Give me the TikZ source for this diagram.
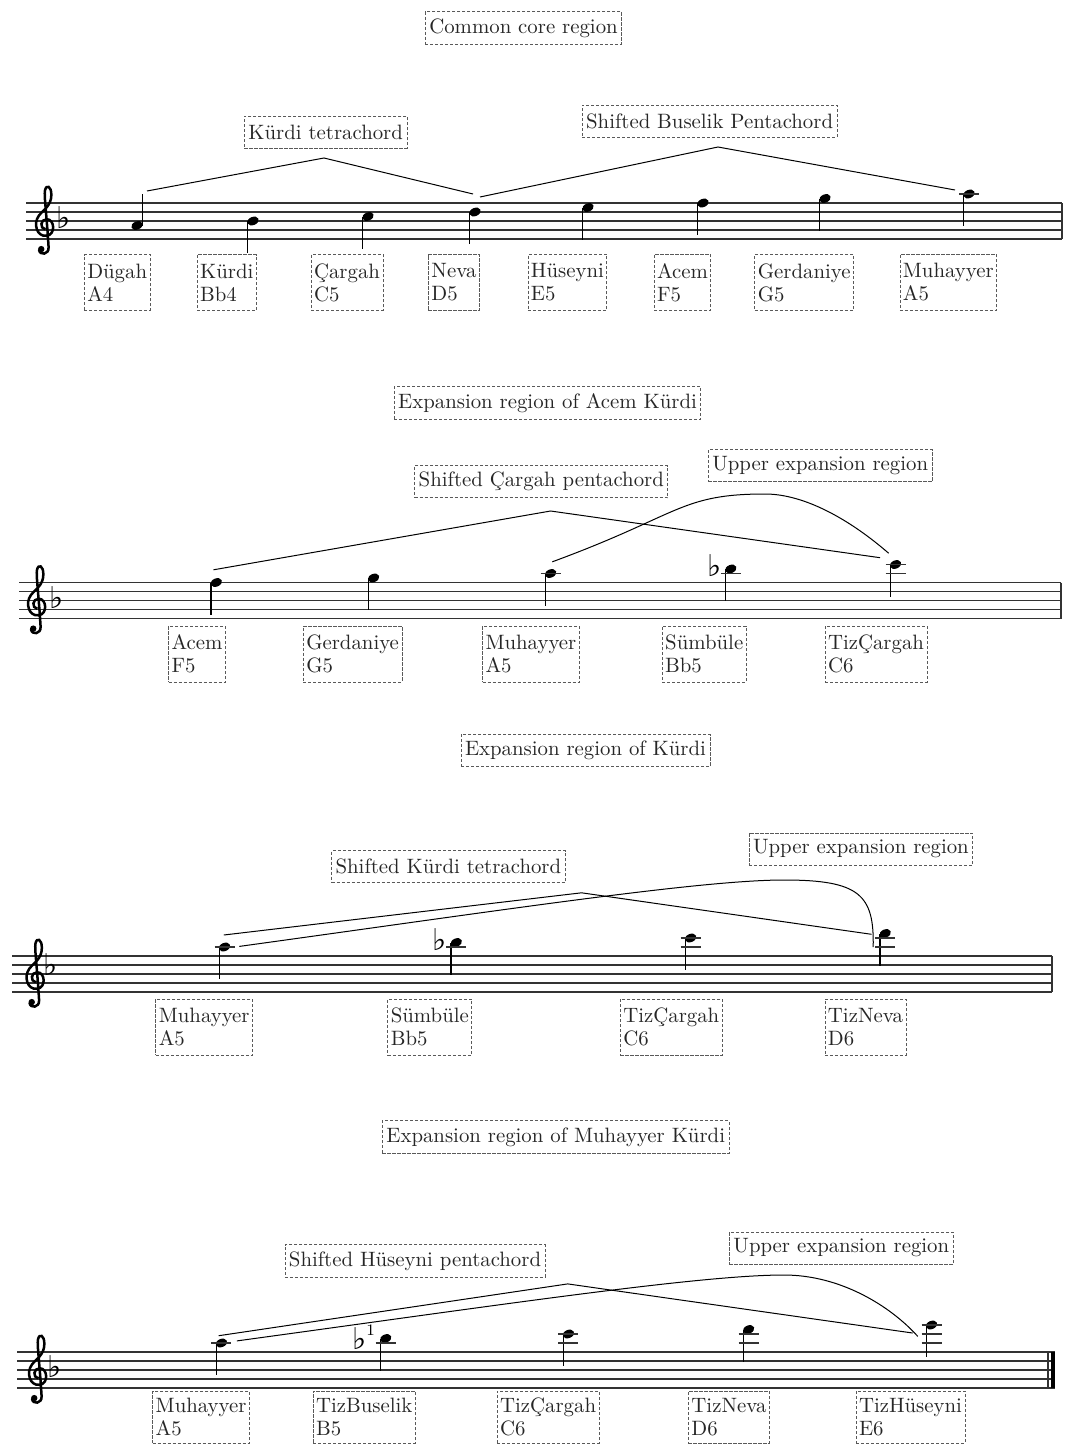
\documentclass[tikz,border=0pt]{standalone}
\usepackage{fontspec}
\newfontfamily\musicsym{DejaVu Sans}

\tikzset{
  regionbox/.style={draw=black!65, dash pattern=on 1.6pt off 0.9pt, text=black!85,
    inner xsep=2pt, minimum height=16pt, font=\fontsize{10.4}{12}\selectfont},
  notename/.style={draw=black!65, dash pattern=on 1.6pt off 0.9pt, text=black!85,
    align=left, inner xsep=1.5pt, minimum height=28pt, font=\fontsize{10.4}{11.5}\selectfont},
  staffline/.style={black!80, line width=0.6pt},
  bracket/.style={line width=0.5pt},
  accidental/.style={inner sep=0pt, font=\musicsym\fontsize{15}{15}\selectfont},
}

% one note: x, top line of its staff, steps above that top line (F5 = 0)
\newcommand{\tone}[3]{%
  \pgfmathsetmacro{\ny}{#2-4.5*(#3)}%
  \fill[rotate around={22:(#1,\ny)}] (#1,\ny) ellipse [x radius=5.9, y radius=4.1];
  \ifnum#3<-4
    \draw[line width=0.6pt] (#1+5.3,\ny) -- ++(0,-32); % stem up
  \else
    \draw[line width=0.6pt] (#1-5.3,\ny) -- ++(0,32); % stem down
  \fi
  \foreach \lg in {2,4,6}{\ifnum#3<\lg\else\draw[staffline] (#1-10,#2-4.5*\lg) -- (#1+10,#2-4.5*\lg);\fi}%
}

% treble clef: x of its centre, y of the bottom staff line
\newcommand{\gclef}[2]{%
  \begin{scope}[shift={(#1,#2)}, x=4.6pt, y=4.6pt, line width=1.25pt]
    \draw (0.15,1.05) .. controls (-0.5,1.15) and (-0.4,2.15) .. (0.3,2.15)
      .. controls (1.15,2.15) and (1.3,0.5) .. (0.3,0.35)
      .. controls (-0.8,0.2) and (-1.2,1.7) .. (-0.55,2.55)
      .. controls (-0.1,3.15) and (0.8,3.6) .. (0.8,4.8)
      .. controls (0.8,5.75) and (0.25,6.0) .. (0.1,5.25)
      .. controls (0.0,4.7) and (0.3,2.5) .. (0.5,-0.9)
      .. controls (0.55,-1.7) and (-0.45,-1.85) .. (-0.55,-1.15);
    \fill (-0.3,-1.1) circle (0.35);
  \end{scope}%
}

\begin{document}
\begin{tikzpicture}[x=0.5pt, y=-0.5pt]
    \useasboundingbox (0,0) rectangle (1068,1445);

    % Staves: left end / right end / top line
    \foreach \l/\r/\t in {26/1062/203, 19/1061/582.5, 12/1052/956, 17/1055/1352} {
        \foreach \k in {0,...,4}
            \draw[staffline] (\l,\t+9*\k) -- (\r,\t+9*\k); % five lines
    }
    \draw[staffline] (1062,203) -- (1062,239);
    \draw[staffline] (1061,582.5) -- (1061,618.5);
    \draw[staffline] (1052,956) -- (1052,992);
    \draw[staffline] (1048,1352) -- (1048,1388);
    \draw[line width=2pt] (1053,1352) -- (1053,1388); % final bar

    % Clefs and key signature
    \gclef{44}{239}
    \gclef{36}{618.5}
    \gclef{34.5}{992}
    \gclef{37}{1388}
    \foreach \x/\y in {63.7/218, 56.8/597.5, 50.6/965, 55/1367}
        \node[accidental] at (\x,\y) {♭};

    % ---------------- Common core region ----------------
    \node[regionbox] (core) at (523.5,28) {Common core region};
    \node[regionbox] (kurdi-tetra) at (325.7,132) {Kürdi tetrachord};
    \node[regionbox] (buselik-penta) at (709.6,121) {Shifted Buselik Pentachord};

    \foreach \x/\s/\lx/\nm/\p in {137/-5/117.2/Dügah/A4, 253/-4/226.8/Kürdi/Bb4,
        368/-3/347/Çargah/C5, 475/-2/454/Neva/D5, 588/-1/567.4/Hüseyni/E5,
        703/0/682.4/Acem/F5, 825/1/804.2/Gerdaniye/G5, 969/2/948.3/Muhayyer/A5} {
        \tone{\x}{203}{\s}
        \node[notename] (s1-\p) at (\lx,282.5) {\nm\\\p};
    }

    \coordinate (kt-a) at (147,191);
    \coordinate (kt-top) at (324,158);
    \coordinate (kt-b) at (473,194);
    \coordinate (bp-a) at (480,197);
    \coordinate (bp-top) at (718,147);
    \coordinate (bp-b) at (955,190);
    \draw[bracket] (kt-a) -- (kt-top) -- (kt-b);
    \draw[bracket] (bp-a) -- (bp-top) -- (bp-b);

    % ---------------- Acem Kurdi ----------------
    \node[regionbox] (acem-region) at (547.5,403) {Expansion region of Acem Kürdi};
    \node[regionbox] (cargah-penta) at (541.3,481.7) {Shifted Çargah pentachord};
    \node[regionbox] (upper2) at (820.2,465.8) {Upper expansion region};

    \foreach \x/\s/\lx/\nm/\p in {216.3/0/197/Acem/F5, 373.6/1/352.6/Gerdaniye/G5,
        550.6/2/530.9/Muhayyer/A5, 730.8/3/704.2/Sümbüle/Bb5, 895.5/4/876/TizÇargah/C6} {
        \tone{\x}{582.5}{\s}
        \node[notename] (s2-\p) at (\lx,654) {\nm\\\p};
    }
    \node[accidental] at (714.6,566) {♭};

    \coordinate (cp-a) at (213.5,569.8);
    \coordinate (cp-top) at (550.6,511);
    \coordinate (cp-b) at (880,557.7);
    \coordinate (ue2-a) at (552.3,561.8);
    \coordinate (ue2-top) at (765,494);
    \coordinate (ue2-b) at (888.6,553.2);
    \draw[bracket] (cp-a) -- (cp-top) -- (cp-b);
    \draw[bracket] (ue2-a) .. controls +(128,-47) and +(-85,0) .. (ue2-top)
        .. controls +(40,0) and +(-38,-33) .. (ue2-b);

    % ---------------- Kurdi ----------------
    \node[regionbox] (kurdi-region) at (585.5,750.5) {Expansion region of Kürdi};
    \node[regionbox] (kurdi-shift) at (448.4,866.7) {Shifted Kürdi tetrachord};
    \node[regionbox] (upper3) at (860.9,849) {Upper expansion region};

    \foreach \x/\s/\lx/\nm/\p in {224.5/2/204.2/Muhayyer/A5, 456.3/3/429.8/Sümbüle/Bb5,
        690.6/4/671.3/TizÇargah/C6, 885.2/5/865.5/TizNeva/D6} {
        \tone{\x}{956}{\s}
        \node[notename] (s3-\p) at (\lx,1027) {\nm\\\p};
    }
    \node[accidental] at (439.7,940) {♭};

    \coordinate (kt3-a) at (223.8,935);
    \coordinate (kt3-top) at (581.5,892.8);
    \coordinate (kt3-b) at (871.5,934.3);
    \coordinate (ue3-a) at (239.3,946.4);
    \coordinate (ue3-top) at (784,880);
    \coordinate (ue3-b) at (873.2,947);
    \draw[bracket] (kt3-a) -- (kt3-top) -- (kt3-b);
    \draw[bracket] (ue3-a) .. controls +(261,-36) and +(-84,0) .. (ue3-top)
        .. controls +(76,0) and +(1,-52) .. (ue3-b);

    % ---------------- Muhayyer Kurdi ----------------
    \node[regionbox] (muhayyer-region) at (555.7,1137) {Expansion region of Muhayyer Kürdi};
    \node[regionbox] (huseyni-penta) at (415,1260.9) {Shifted Hüseyni pentachord};
    \node[regionbox] (upper4) at (841.3,1248) {Upper expansion region};

    \foreach \x/\s/\lx/\nm/\p in {221.4/2/201.1/Muhayyer/A5, 385.7/3/364.2/TizBuselik/B5,
        568.4/4/548.1/TizÇargah/C6, 748.6/5/729/TizNeva/D6, 931.5/6/910.5/TizHüseyni/E6} {
        \tone{\x}{1352}{\s}
        \node[notename, minimum height=26pt] (s4-\p) at (\lx,1417) {\nm\\\p};
    }
    \node[accidental] at (359.8,1339) {♭};
    \node[inner sep=0pt, font=\fontsize{8}{8}\selectfont] at (370.5,1330) {1};

    \coordinate (hp-a) at (218.7,1335.7);
    \coordinate (hp-top) at (567.7,1283.9);
    \coordinate (hp-b) at (912.6,1333);
    \coordinate (ue4-a) at (236.9,1340.9);
    \coordinate (ue4-top) at (784,1275);
    \coordinate (ue4-b) at (917.8,1336.4);
    \draw[bracket] (hp-a) -- (hp-top) -- (hp-b);
    \draw[bracket] (ue4-a) .. controls +(263,-36) and +(-84,0) .. (ue4-top)
        .. controls +(56,0) and +(-28,-31) .. (ue4-b);
\end{tikzpicture}
\end{document}
